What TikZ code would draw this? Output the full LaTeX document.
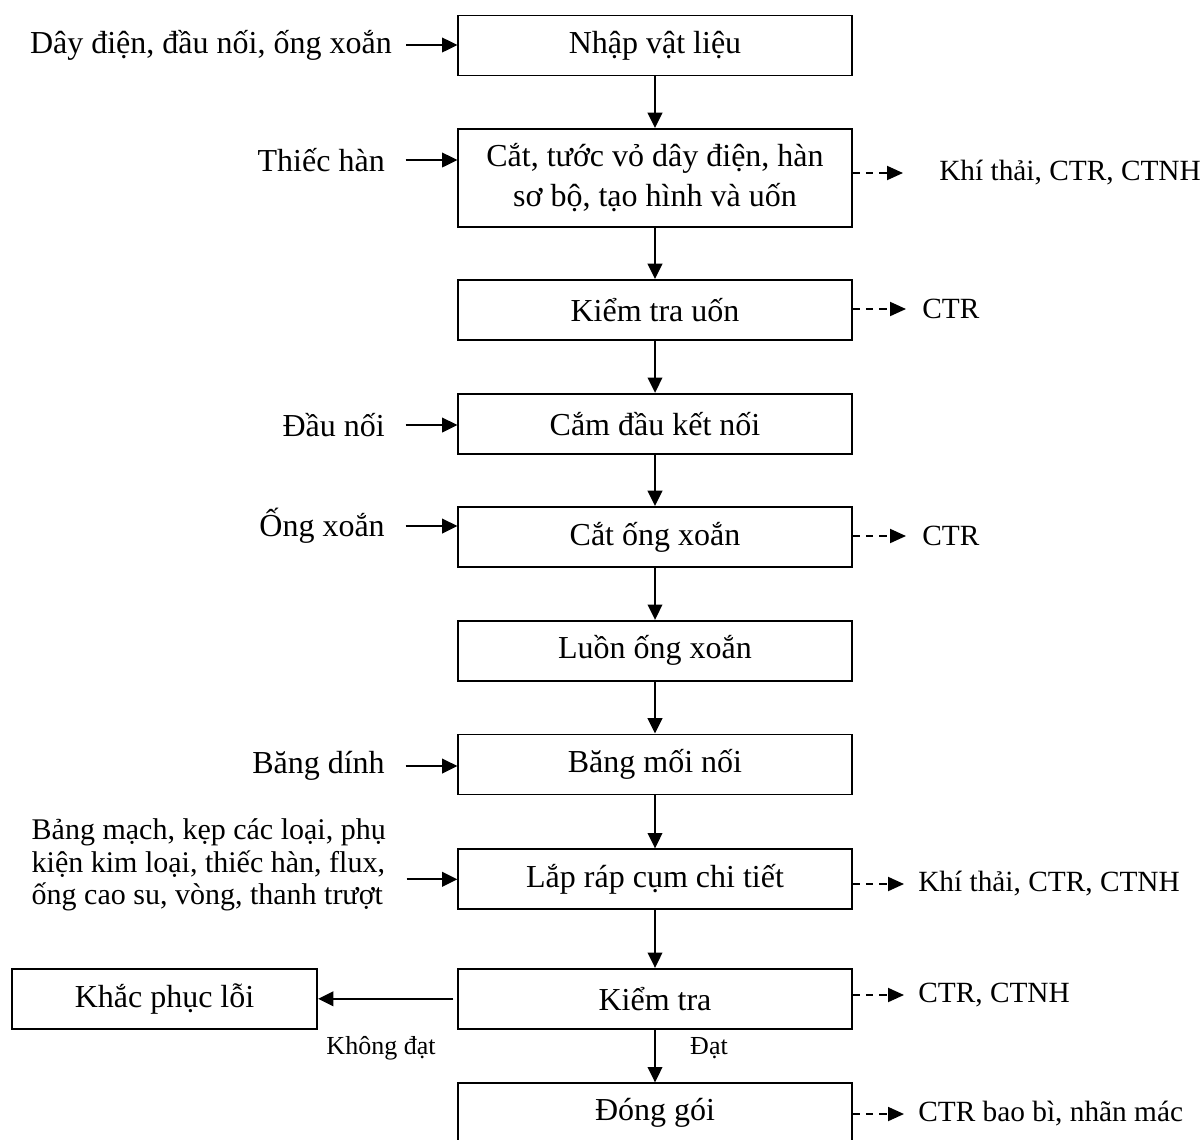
\documentclass[tikz,border=0pt]{standalone}
\usepackage{fontspec}
\setmainfont{Liberation Serif}
\usetikzlibrary{arrows.meta, positioning}

\begin{document}
\begin{tikzpicture}[x=0.75pt, y=-0.75pt,
    procbox/.style={
        draw,
        line width=1.45pt,
        minimum width=295pt,
        minimum height=45pt,
        inner sep=2pt,
        align=center,
        font=\fontsize{24}{30}\selectfont
    },
    inputtext/.style={
        anchor=east,
        inner sep=0pt,
        font=\fontsize{24}{29}\selectfont
    },
    outtext/.style={
        anchor=west,
        inner sep=0pt,
        font=\fontsize{22}{26}\selectfont
    },
    choicetext/.style={
        inner sep=0pt,
        font=\fontsize{19.5}{23}\selectfont
    },
    flowarrow/.style={
        line width=1.45pt,
        -{Triangle[length=11.5pt, width=11pt]}
    },
    feedarrow/.style={
        flowarrow,
        shorten <=15.5pt
    },
    wastearrow/.style={
        line width=1.45pt,
        dash pattern=on 5.5pt off 4.5pt,
        -{Triangle[length=12pt, width=10.5pt]},
        shorten >=12pt
    }
]
\useasboundingbox (0,0) rectangle (1202,1139);

% Main process column
\node[procbox] (n1) at (655,45.5) {Nhập vật liệu};
\node[procbox, minimum height=73.5pt] (n2) at (655,178) {Cắt, tước vỏ dây điện, hàn\\sơ bộ, tạo hình và uốn};
\node[procbox] (n3) at (655,310) {Kiểm tra uốn};
\node[procbox] (n4) at (655,423.8) {Cắm đầu kết nối};
\node[procbox] (n5) at (655,537) {Cắt ống xoắn};
\node[procbox] (n6) at (655,650.8) {Luồn ống xoắn};
\node[procbox] (n7) at (655,764.5) {Băng mối nối};
\node[procbox] (n8) at (655,879.3) {Lắp ráp cụm chi tiết};
\node[procbox] (n9) at (655,998.8) {Kiểm tra};
\node[procbox] (n10) at (655,1113.3) {Đóng gói};
\node[procbox, minimum width=229pt] (fix) at (164.5,998.8) {Khắc phục lỗi};

\foreach \a/\b in {n1/n2, n2/n3, n3/n4, n4/n5, n5/n6, n6/n7, n7/n8, n8/n9, n9/n10}
    \draw[flowarrow] (\a) -- (\b);
\draw[flowarrow, shorten <=3pt] (n9.west) -- (fix.east);

% Inputs on the left
\node[inputtext] (in1) at (392,45) {Dây điện, đầu nối, ống xoắn};
\node[inputtext] (in2) at (385,160) {Thiếc hàn};
\node[inputtext] (in4) at (385,425) {Đầu nối};
\node[inputtext] (in5) at (385,526) {Ống xoắn};
\node[inputtext] (in7) at (385,766) {Băng dính};
\node[inputtext, align=left, font=\fontsize{22.5}{24.4}\selectfont] (in8) at (386,865)
    {Bảng mạch, kẹp các loại, phụ\\kiện kim loại, thiếc hàn, flux,\\ống cao su, vòng, thanh trượt};

\draw[feedarrow, shorten <=10.5pt] (in1.east) -- (in1.east -| n1.west);
\draw[feedarrow] (in2.east) -- (in2.east -| n2.west);
\draw[feedarrow] (in4.east) -- (in4.east -| n4.west);
\draw[feedarrow] (in5.east) -- (in5.east -| n5.west);
\draw[feedarrow] (in7.east) -- (in7.east -| n7.west);
\draw[feedarrow] (in8.east |- n8.west) -- (n8.west);

% Wastes on the right
\node[outtext] (out2) at (939,173) {Khí thải, CTR, CTNH};
\node[outtext] (out3) at (922,309) {CTR};
\node[outtext] (out5) at (922,536) {CTR};
\node[outtext] (out8) at (918,884) {Khí thải, CTR, CTNH};
\node[outtext] (out9) at (918,995) {CTR, CTNH};
\node[outtext] (out10) at (918,1114) {CTR bao bì, nhãn mác};

\draw[wastearrow, shorten >=27pt] (out2.west -| n2.east) -- (out2.west);
\draw[wastearrow] (out3.west -| n3.east) -- (out3.west);
\draw[wastearrow] (out5.west -| n5.east) -- (out5.west);
\draw[wastearrow, shorten >=10.5pt] (out8.west -| n8.east) -- (out8.west);
\draw[wastearrow, shorten >=10.5pt] (out9.west -| n9.east) -- (out9.west);
\draw[wastearrow, shorten >=10.5pt] (out10.west -| n10.east) -- (out10.west);

% Check outcomes
\node[choicetext] (fail) at (381,1048) {Không đạt};
\node[choicetext] (pass) at (709,1048) {Đạt};

\end{tikzpicture}
\end{document}
